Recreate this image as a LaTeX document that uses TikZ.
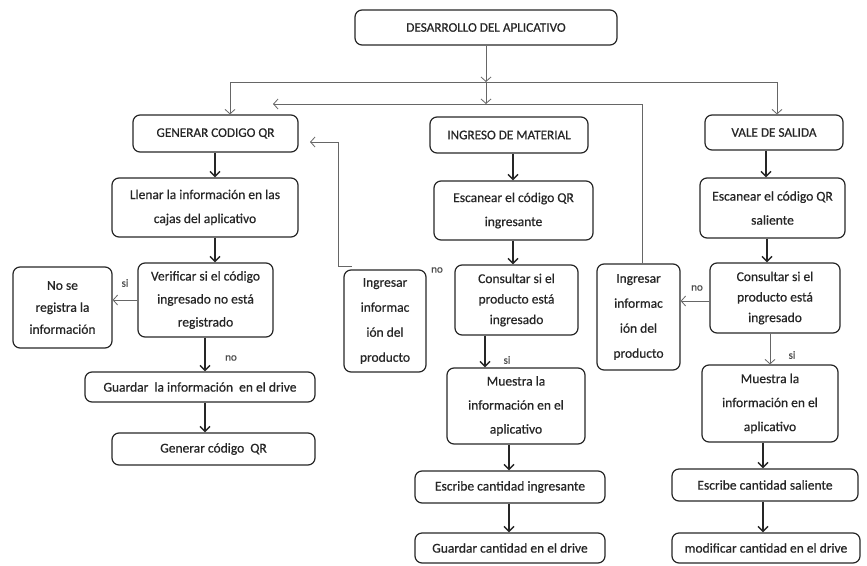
\documentclass[tikz,border=0pt]{standalone}
\usepackage{fontspec}
\setmainfont{Carlito}[RawFeature={embolden=0.6}]
\usetikzlibrary{arrows.meta}

\tikzset{
  box/.style={draw=black!85, line width=1.2pt, rounded corners=7pt, align=center,
    inner sep=0pt, text=black!85, font=\fontsize{13.5}{24}\selectfont},
  titlebox/.style={box, font=\fontsize{13.2}{15}\selectfont},
  flow/.style={draw=black!85, line width=1.5pt,
    -{Straight Barb[length=5pt,width=10pt,line width=1.4pt]}},
  link/.style={draw=black!60, line width=0.7pt,
    -{Straight Barb[length=4.5pt,width=10pt,line width=0.8pt]}},
  wire/.style={draw=black!60, line width=0.7pt},
  lbl/.style={font=\fontsize{11}{13}\selectfont, text=black!70, inner sep=0pt}
}

\begin{document}
\begin{tikzpicture}[x=1pt,y=-1pt]
\useasboundingbox (0,0) rectangle (867,565);

% top level
\node[titlebox, minimum width=262, minimum height=35] (dev) at (486,27.5) {DESARROLLO DEL APLICATIVO};

% three branches
\node[titlebox, minimum width=165, minimum height=37] (gen)  at (215.5,133.5) {GENERAR CODIGO QR};
\node[titlebox, minimum width=158, minimum height=36] (ing)  at (509,135)     {INGRESO DE MATERIAL};
\node[titlebox, minimum width=138, minimum height=35] (vale) at (774,132.5)   {VALE DE SALIDA};

% left column: QR generation
\node[box, minimum width=186, minimum height=59] (llenar) at (205,207.5) {Llenar la información en las\\cajas del aplicativo};
\node[box, minimum width=135, minimum height=74, font=\fontsize{13.5}{23}\selectfont] (verif) at (205.5,300) {Verificar si el código\\ingresado no está\\registrado};
\node[box, minimum width=99, minimum height=81, font=\fontsize{13.5}{22}\selectfont] (nose) at (62.5,307.5) {No se\\registra la\\información};
\node[box, minimum width=230, minimum height=30] (guardI) at (200,387)  {Guardar~ la información~ en el drive};
\node[box, minimum width=203, minimum height=32] (genQR)  at (213.5,449) {Generar código~ QR};

% middle column: material intake
\node[box, minimum width=159, minimum height=59] (escI)  at (513.5,210.5) {Escanear el código QR\\ingresante};
\node[box, minimum width=123, minimum height=70, font=\fontsize{13.5}{20.5}\selectfont] (consI) at (516.5,300) {Consultar si el\\producto está\\ingresado};
\node[box, minimum width=82, minimum height=102, font=\fontsize{13.5}{25}\selectfont] (ingL) at (385,321) {Ingresar\\informac\\ión del\\producto};
\node[box, minimum width=138, minimum height=76] (muesI)  at (516,406) {Muestra la\\información en el\\aplicativo};
\node[box, minimum width=190, minimum height=32] (escrI)  at (510,487) {Escribe cantidad ingresante};
\node[box, minimum width=190, minimum height=30] (guardC) at (510,548) {Guardar cantidad en el drive};

% right column: exit voucher
\node[box, minimum width=145, minimum height=60] (escS)  at (772.5,208) {Escanear el código QR\\saliente};
\node[box, minimum width=130, minimum height=70, font=\fontsize{13.5}{20.5}\selectfont] (consS) at (775,298) {Consultar si el\\producto está\\ingresado};
\node[box, minimum width=83, minimum height=106, font=\fontsize{13.5}{25}\selectfont] (ingR) at (638.5,317) {Ingresar\\informac\\ión del\\producto};
\node[box, minimum width=136, minimum height=77] (muesS) at (770,403.5) {Muestra la\\información en el\\aplicativo};
\node[box, minimum width=186, minimum height=32] (escrS) at (765,485) {Escribe cantidad saliente};
\node[box, minimum width=188, minimum height=30] (modif) at (766,548) {modificar cantidad en el drive};

% distribution lines under the top box
\coordinate (j1) at (486,82);
\coordinate (j2) at (486,104);
\coordinate (jl) at (230,82);
\coordinate (jr) at (777,82);
\draw[link] (dev.south) -- (j1);
\draw[link] (j1) -- (j2);
\draw[wire] (jl) -- (jr);
\draw[link] (jl) -- (jl |- gen.north);
\draw[link] (jr) -- (jr |- vale.north);

% return paths from the two "Ingresar" boxes
\coordinate (rbR) at (642,104);
\coordinate (rbRend) at (273,104);
\draw[link] (ingR.north -| rbR) -- (rbR) -- (rbRend);
\coordinate (rbLs) at (352,266);
\coordinate (rbLend) at (310,142);
\draw[link] (rbLs) -- (338,266) -- (338,142) -- (rbLend);

% left column flow
\draw[flow] (gen.south -| 215,0) -- (llenar.north -| 215,0);
\draw[flow] (llenar.south -| 215,0) -- (verif.north -| 215,0);
\draw[flow] (verif.south -| 205,0) -- (guardI.north -| 205,0);
\draw[flow] (guardI.south -| 205,0) -- (genQR.north -| 205,0);
\draw[link] (verif.west) -- (nose.east |- verif.west);
\node[lbl] at (125,283) {si};
\node[lbl] at (231,358) {no};

% middle column flow
\draw[flow] (ing.south -| 513,0) -- (escI.north -| 513,0);
\draw[flow] (escI.south -| 513,0) -- (consI.north -| 513,0);
\draw[flow] (consI.south -| 485,0) -- (muesI.north -| 485,0);
\draw[flow] (muesI.south -| 509,0) -- (escrI.north -| 509,0);
\draw[flow] (escrI.south -| 509,0) -- (guardC.north -| 509,0);
\node[lbl] at (507,360) {si};
\node[lbl] at (437,270) {no};

% right column flow
\draw[flow] (vale.south -| 766,0) -- (escS.north -| 766,0);
\draw[flow] (escS.south -| 767,0) -- (consS.north -| 767,0);
\draw[link] (consS.south -| 770,0) -- (muesS.north -| 770,0);
\draw[flow] (muesS.south -| 763,0) -- (escrS.north -| 763,0);
\draw[flow] (escrS.south -| 763,0) -- (modif.north -| 763,0);
\draw[link] (consS.west |- 0,301) -- (ingR.east |- 0,301);
\node[lbl] at (697,288) {no};
\node[lbl] at (792,355) {si};
\end{tikzpicture}
\end{document}
